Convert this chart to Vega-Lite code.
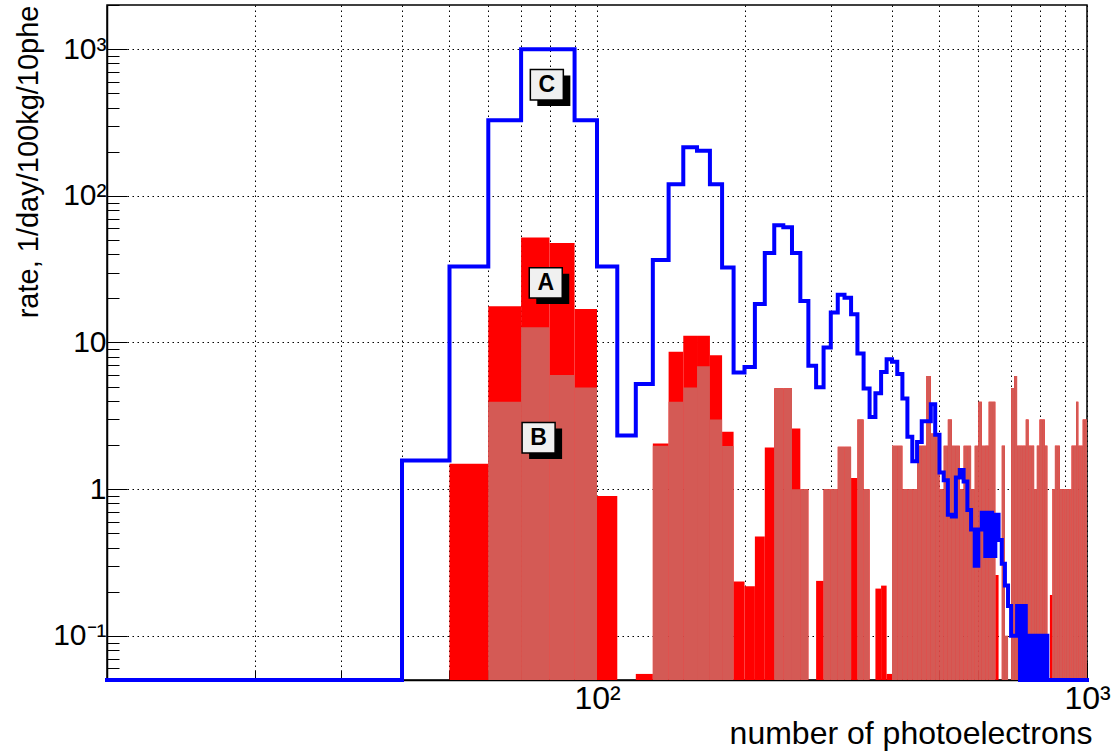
{
  "$schema": "https://vega.github.io/schema/vega-lite/v6.json",
  "width": 980,
  "height": 675,
  "autosize": {"type": "none"},
  "padding": {"left": 107, "top": 5, "right": 28, "bottom": 71},
  "background": "white",
  "config": {"view": {"stroke": "black", "strokeWidth": 1.5}, "font": "Liberation Sans"},
  "datasets": {
    "hist": [
      {"lo":10,"hi":20,"A":0,"B":0,"C":0.05},
      {"lo":20,"hi":30,"A":0,"B":0,"C":0.05},
      {"lo":30,"hi":40,"A":0,"B":0,"C":0.05},
      {"lo":40,"hi":50,"A":0,"B":0,"C":1.57},
      {"lo":50,"hi":60,"A":1.49,"B":0,"C":33},
      {"lo":60,"hi":70,"A":17.7,"B":3.95,"C":327},
      {"lo":70,"hi":80,"A":52,"B":12.7,"C":1000},
      {"lo":80,"hi":90,"A":47.6,"B":6.0,"C":1000},
      {"lo":90,"hi":100,"A":16.9,"B":4.94,"C":327},
      {"lo":100,"hi":110,"A":0.9,"B":0,"C":33},
      {"lo":110,"hi":120,"A":0,"B":0,"C":2.32},
      {"lo":120,"hi":130,"A":0.055,"B":0,"C":5.22},
      {"lo":130,"hi":140,"A":2.05,"B":1.98,"C":36.5},
      {"lo":140,"hi":150,"A":8.64,"B":3.95,"C":120},
      {"lo":150,"hi":160,"A":11.1,"B":4.94,"C":214},
      {"lo":160,"hi":170,"A":11.1,"B":6.9,"C":203},
      {"lo":170,"hi":180,"A":8.2,"B":2.98,"C":120},
      {"lo":180,"hi":190,"A":2.46,"B":1.97,"C":32.5},
      {"lo":190,"hi":200,"A":0.235,"B":0,"C":6.25},
      {"lo":200,"hi":210,"A":0.218,"B":0,"C":6.8},
      {"lo":210,"hi":220,"A":0.475,"B":0,"C":18.3},
      {"lo":220,"hi":230,"A":1.92,"B":0,"C":40.7},
      {"lo":230,"hi":240,"A":4.88,"B":4.88,"C":63},
      {"lo":240,"hi":250,"A":4.88,"B":4.88,"C":61},
      {"lo":250,"hi":260,"A":2.59,"B":1.0,"C":40.7},
      {"lo":260,"hi":270,"A":1.0,"B":1.0,"C":19.2},
      {"lo":270,"hi":280,"A":0,"B":0,"C":6.95},
      {"lo":280,"hi":290,"A":0.237,"B":0,"C":4.96},
      {"lo":290,"hi":300,"A":1.0,"B":1.0,"C":9.25},
      {"lo":300,"hi":310,"A":1.0,"B":1.0,"C":16},
      {"lo":310,"hi":320,"A":1.95,"B":1.95,"C":21.2},
      {"lo":320,"hi":330,"A":1.95,"B":1.95,"C":20.2},
      {"lo":330,"hi":340,"A":1.19,"B":0,"C":15.6},
      {"lo":340,"hi":350,"A":2.98,"B":2.98,"C":8.4},
      {"lo":350,"hi":360,"A":1.0,"B":1.0,"C":4.86},
      {"lo":360,"hi":370,"A":0,"B":0,"C":3.1},
      {"lo":370,"hi":380,"A":0.21,"B":0,"C":4.5},
      {"lo":380,"hi":390,"A":0.22,"B":0,"C":6.3},
      {"lo":390,"hi":400,"A":0.055,"B":0,"C":7.7},
      {"lo":400,"hi":410,"A":1.98,"B":1.98,"C":7.4},
      {"lo":410,"hi":420,"A":1.98,"B":1.98,"C":6.1},
      {"lo":420,"hi":430,"A":1.0,"B":1.0,"C":4.15},
      {"lo":430,"hi":440,"A":1.0,"B":1.0,"C":2.28},
      {"lo":440,"hi":450,"A":1.0,"B":1.0,"C":1.55},
      {"lo":450,"hi":460,"A":1.98,"B":1.98,"C":2.1},
      {"lo":460,"hi":470,"A":1.98,"B":1.98,"C":2.9},
      {"lo":470,"hi":480,"A":5.9,"B":5.9,"C":2.9},
      {"lo":480,"hi":490,"A":2.4,"B":2.4,"C":3.8},
      {"lo":490,"hi":500,"A":2.4,"B":2.4,"C":2.35},
      {"lo":500,"hi":510,"A":1.0,"B":1.0,"C":1.3},
      {"lo":510,"hi":520,"A":1.98,"B":1.98,"C":1.15},
      {"lo":520,"hi":530,"A":2.98,"B":2.98,"C":0.67},
      {"lo":530,"hi":540,"A":1.98,"B":1.98,"C":0.65},
      {"lo":540,"hi":550,"A":1.98,"B":1.98,"C":1.2},
      {"lo":550,"hi":560,"A":1.0,"B":1.0,"C":1.35},
      {"lo":560,"hi":570,"A":1.98,"B":1.98,"C":1.13},
      {"lo":570,"hi":580,"A":1.98,"B":1.98,"C":0.72},
      {"lo":580,"hi":590,"A":1.0,"B":1.0,"C":0.53},
      {"lo":590,"hi":600,"A":1.98,"B":1.98,"C":0.3},
      {"lo":600,"hi":610,"A":3.95,"B":3.95,"C":0.53},
      {"lo":610,"hi":620,"A":1.98,"B":1.98,"C":0.69},
      {"lo":620,"hi":630,"A":1.98,"B":1.98,"C":0.35},
      {"lo":630,"hi":640,"A":3.95,"B":3.95,"C":0.69},
      {"lo":640,"hi":650,"A":3.95,"B":3.95,"C":0.35},
      {"lo":650,"hi":660,"A":0.26,"B":0,"C":0.67},
      {"lo":660,"hi":670,"A":0,"B":0,"C":0.45},
      {"lo":670,"hi":680,"A":1.98,"B":1.98,"C":0.31},
      {"lo":680,"hi":690,"A":0.1,"B":0.1,"C":0.22},
      {"lo":690,"hi":700,"A":0,"B":0,"C":0.16},
      {"lo":700,"hi":710,"A":4.9,"B":4.9,"C":0.1},
      {"lo":710,"hi":720,"A":5.9,"B":5.9,"C":0.1},
      {"lo":720,"hi":730,"A":1.98,"B":1.98,"C":0.16},
      {"lo":730,"hi":740,"A":1.98,"B":1.98,"C":0.05},
      {"lo":740,"hi":750,"A":1.98,"B":1.98,"C":0.16},
      {"lo":750,"hi":760,"A":2.98,"B":2.98,"C":0.05},
      {"lo":760,"hi":770,"A":1.98,"B":1.98,"C":0.1},
      {"lo":770,"hi":780,"A":1.98,"B":1.98,"C":0.05},
      {"lo":780,"hi":790,"A":1.0,"B":1.0,"C":0.1},
      {"lo":790,"hi":800,"A":1.98,"B":1.98,"C":0.05},
      {"lo":800,"hi":810,"A":2.98,"B":2.98,"C":0.1},
      {"lo":810,"hi":820,"A":2.98,"B":2.98,"C":0.05},
      {"lo":820,"hi":830,"A":1.98,"B":1.98,"C":0.1},
      {"lo":830,"hi":840,"A":0,"B":0,"C":0.05},
      {"lo":840,"hi":850,"A":0.19,"B":0,"C":0.05},
      {"lo":850,"hi":860,"A":1.0,"B":1.0,"C":0.05},
      {"lo":860,"hi":870,"A":1.98,"B":1.98,"C":0.05},
      {"lo":870,"hi":880,"A":1.98,"B":1.98,"C":0.05},
      {"lo":880,"hi":890,"A":1.0,"B":1.0,"C":0.05},
      {"lo":890,"hi":900,"A":1.0,"B":1.0,"C":0.05},
      {"lo":900,"hi":910,"A":1.0,"B":1.0,"C":0.05},
      {"lo":910,"hi":920,"A":1.0,"B":1.0,"C":0.05},
      {"lo":920,"hi":930,"A":1.0,"B":1.0,"C":0.05},
      {"lo":930,"hi":940,"A":1.98,"B":1.98,"C":0.05},
      {"lo":940,"hi":950,"A":1.98,"B":1.98,"C":0.05},
      {"lo":950,"hi":960,"A":3.95,"B":3.95,"C":0.05},
      {"lo":960,"hi":970,"A":1.98,"B":1.98,"C":0.05},
      {"lo":970,"hi":980,"A":1.98,"B":1.98,"C":0.05},
      {"lo":980,"hi":990,"A":2.98,"B":2.98,"C":0.05},
      {"lo":990,"hi":1000,"A":2.98,"B":2.98,"C":0.05}
    ],
    "labels": [
      {"x": 79, "y": 572, "t": "C"},
      {"x": 78.6, "y": 25.5, "t": "A"},
      {"x": 76, "y": 2.24, "t": "B"}
    ]
  },
  "layer": [
    {
      "data": {"name": "hist"},
      "transform": [{"filter": "datum.A > 0"}],
      "mark": {"type": "bar", "color": "#ff0000"},
      "encoding": {
        "x": {
          "field": "lo", "type": "quantitative",
          "scale": {"type": "log", "domain": [10, 1000], "nice": false},
          "axis": {
            "values": [20,30,40,50,60,70,80,90,100,200,300,400,500,600,700,800,900,1000],
            "labelExpr": "datum.value == 100 ? '10²' : datum.value == 1000 ? '10³' : ''",
            "labelOverlap": false, "labelFlush": false, "labelBound": false,
            "labelFontSize": 32, "labelColor": "black", "labelPadding": 21,
            "grid": true, "gridColor": "black", "gridDash": [1.5, 3.5], "gridWidth": 1,
            "tickColor": "black", "tickWidth": 1,
            "tickSize": {"condition": {"test": "datum.value == 100 || datum.value == 1000", "value": -18}, "value": -10},
            "domainColor": "black", "domainWidth": 1.5,
            "title": "number of photoelectrons",
            "titleFontSize": 32, "titleFontWeight": "normal", "titleColor": "black",
            "titleAnchor": "end", "titleAlign": "right", "titleBaseline": "alphabetic",
            "titleX": 985, "titleY": 63
          }
        },
        "x2": {"field": "hi"},
        "y": {
          "field": "A", "type": "quantitative",
          "scale": {"type": "log", "domain": [0.05, 2000], "nice": false},
          "axis": {
            "values": [0.05,0.06,0.07,0.08,0.09,0.1,0.2,0.3,0.4,0.5,0.6,0.7,0.8,0.9,1,2,3,4,5,6,7,8,9,10,20,30,40,50,60,70,80,90,100,200,300,400,500,600,700,800,900,1000,2000],
            "labelExpr": "datum.value == 0.1 ? '10⁻¹' : datum.value == 1 ? '1' : datum.value == 10 ? '10' : datum.value == 100 ? '10²' : datum.value == 1000 ? '10³' : ''",
            "labelOverlap": false, "labelFlush": false, "labelBound": false,
            "labelFontSize": 30, "labelColor": "black", "labelPadding": 21,
            "grid": true, "gridColor": "black", "gridDash": [1.5, 3.5], "gridWidth": 1,
            "gridOpacity": {"condition": {"test": "indexof([0.1, 1, 10, 100, 1000], datum.value) >= 0", "value": 1}, "value": 0},
            "tickColor": "black", "tickWidth": 1,
            "tickSize": {"condition": {"test": "indexof([0.1, 1, 10, 100, 1000], datum.value) >= 0", "value": -20}, "value": -12},
            "domainColor": "black", "domainWidth": 1.5,
            "title": "rate,  1/day/100kg/10phe",
            "titleFontSize": 29, "titleFontWeight": "normal", "titleColor": "black",
            "titleAngle": -90, "titleAlign": "right", "titleBaseline": "alphabetic",
            "titleX": -70, "titleY": 0
          }
        },
        "y2": {"datum": 0.05}
      }
    },
    {
      "data": {"name": "hist"},
      "transform": [{"filter": "datum.B > 0"}],
      "mark": {"type": "bar", "color": "#d45a55"},
      "encoding": {
        "x": {"field": "lo", "type": "quantitative"},
        "x2": {"field": "hi"},
        "y": {"field": "B", "type": "quantitative"},
        "y2": {"datum": 0.05}
      }
    },
    {
      "data": {"name": "hist"},
      "transform": [{"fold": ["lo", "hi"], "as": ["edge", "xpos"]}],
      "mark": {"type": "line", "color": "#0000ff", "strokeWidth": 4, "strokeJoin": "miter", "strokeCap": "square"},
      "encoding": {
        "x": {"field": "xpos", "type": "quantitative"},
        "y": {"field": "C", "type": "quantitative"},
        "order": [{"field": "lo", "type": "quantitative", "sort": "ascending"}, {"field": "edge", "type": "nominal", "sort": "descending"}]
      }
    },
    {
      "data": {"name": "labels"},
      "mark": {"type": "point", "shape": "M-1,-0.92L1,-0.92L1,0.92L-1,0.92Z", "size": 1089, "filled": true, "fill": "black", "stroke": null, "opacity": 1, "xOffset": 7, "yOffset": 6},
      "encoding": {
        "x": {"field": "x", "type": "quantitative"},
        "y": {"field": "y", "type": "quantitative"}
      }
    },
    {
      "data": {"name": "labels"},
      "mark": {"type": "point", "shape": "M-1,-0.92L1,-0.92L1,0.92L-1,0.92Z", "size": 1089, "filled": true, "fill": "#f0f0f0", "stroke": "black", "strokeWidth": 1.5, "opacity": 1},
      "encoding": {
        "x": {"field": "x", "type": "quantitative"},
        "y": {"field": "y", "type": "quantitative"}
      }
    },
    {
      "data": {"name": "labels"},
      "mark": {"type": "text", "fontSize": 23, "fontWeight": "bold", "font": "Liberation Sans", "color": "black", "align": "center", "baseline": "middle"},
      "encoding": {
        "x": {"field": "x", "type": "quantitative"},
        "y": {"field": "y", "type": "quantitative"},
        "text": {"field": "t"}
      }
    }
  ]
}
